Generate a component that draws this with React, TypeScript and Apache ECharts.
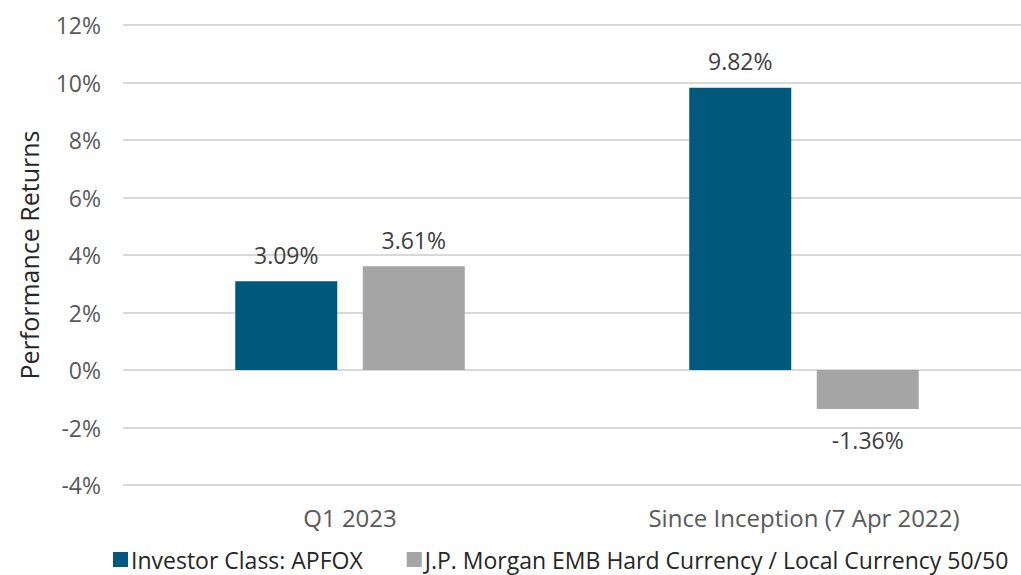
import React, { useEffect, useRef } from "react";
import * as echarts from "echarts";

const categories = ["Q1 2023", "Since Inception (7 Apr 2022)"];
const seriesNames = ["Investor Class: APFOX", "J.P. Morgan EMB Hard Currency / Local Currency 50/50"];
const investorValues = [3.09, 9.82];
const benchmarkValues = [3.61, -1.36];
const colors = ["#00587C", "#A5A5A5"];

const FONT = "Open Sans";

export default function App() {
  const ref = useRef<HTMLDivElement>(null);
  useEffect(() => {
    if (!ref.current) return;
    const chart = echarts.init(ref.current, undefined, { renderer: "svg" });
    const label = {
      show: true,
      formatter: (p: any) => p.value.toFixed(2) + "%",
      color: "#404040",
      fontSize: 23,
      fontFamily: FONT,
      distance: 15,
    };
    chart.setOption({
      animation: false,
      textStyle: { fontFamily: FONT },
      grid: {
        left: 123,
        width: 908,
        top: 25,
        bottom: 90,
        containLabel: false,
        outerBoundsMode: "none",
      },
      legend: {
        left: 108,
        bottom: -1,
        itemWidth: 15,
        itemHeight: 15,
        itemGap: 44,
        icon: "rect",
        textStyle: { fontSize: 23, color: "#262626", fontFamily: FONT, padding: [0, 0, 0, -2] },
        data: seriesNames,
      },
      xAxis: {
        type: "category",
        data: categories,
        axisLine: { show: false },
        axisTick: { show: false },
        axisLabel: { fontSize: 24, color: "#595959", margin: 20, fontFamily: FONT },
      },
      yAxis: {
        type: "value",
        min: -4,
        max: 12,
        interval: 2,
        name: "Performance Returns",
        nameLocation: "middle",
        nameGap: 82,
        nameTextStyle: { fontSize: 25, color: "#262626", fontFamily: FONT },
        axisLabel: { formatter: "{value}%", fontSize: 23, color: "#595959", margin: 22, fontFamily: FONT },
        splitLine: { lineStyle: { color: "#D9D9D9", width: 2 } },
        axisLine: { show: false },
        axisTick: { show: false },
      },
      series: [
        {
          name: seriesNames[0],
          type: "bar",
          data: investorValues,
          barWidth: 102,
          barGap: "25%",
          itemStyle: { color: colors[0] },
          label: { ...label, position: "top" },
        },
        {
          name: seriesNames[1],
          type: "bar",
          data: benchmarkValues.map((v) => ({
            value: v,
            label: { position: v < 0 ? "bottom" : "top", distance: v < 0 ? 19 : 15 },
          })),
          barWidth: 102,
          itemStyle: { color: colors[1] },
          label: { ...label, position: "top" },
        },
      ],
    });
    return () => chart.dispose();
  }, []);
  return <div ref={ref} style={{ width: 1021, height: 575, position: "absolute", left: 0, top: 0 }} />;
}
